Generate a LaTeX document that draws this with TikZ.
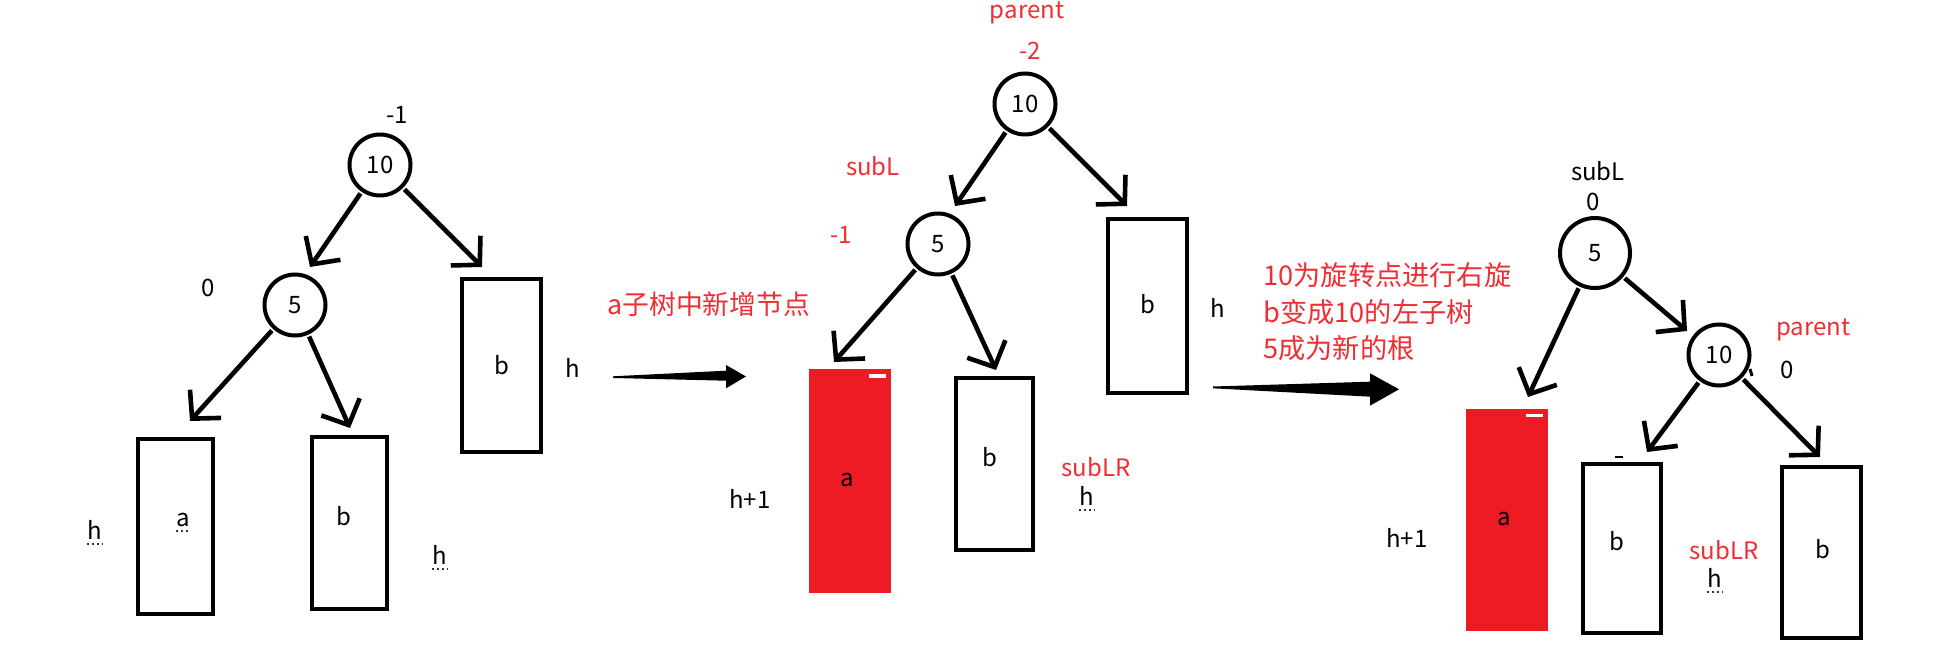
\documentclass[tikz,border=0pt]{standalone}
\usepackage{fontspec}
\setmainfont{Noto Sans CJK SC}
\usetikzlibrary{arrows.meta,fit}
\definecolor{pred}{RGB}{237,28,36}
\definecolor{tred}{RGB}{240,45,50}
\begin{document}
\begin{tikzpicture}[x=0.5pt,y=-0.5pt,
  lab/.style={font=\fontsize{12}{14}\selectfont, inner sep=0pt, text=black},
  rlab/.style={lab, text=tred},
  circ/.style={circle, draw, line width=2pt, minimum size=30.5pt, inner sep=0pt, font=\fontsize{12}{14}\selectfont},
  bigcirc/.style={circ, minimum size=35pt},
  box/.style={draw, line width=2.4pt, inner sep=0pt, outer sep=0pt},
  redbox/.style={fill=pred, inner sep=0pt, outer sep=0pt},
  whitedash/.style={fill=white, draw=none},
  arr/.style={line width=2.3pt, shorten <=1pt, -{Straight Barb[length=10pt,width=21pt]}},
  dotline/.style={line width=0.9pt, dash pattern=on 0.9pt off 1.6pt, black!80},
  bigarrow/.style={fill=black, draw=none}
]
\fill[white] (0,0) rectangle (1941,657);
\useasboundingbox (0,0) rectangle (1941,657);

% ================= Panel 1 =================
\node[circ] (L10) at (380,165) {10};
\node[circ] (L5) at (295,305) {5};
\node[box, fit={(138,439) (213,614)}] (La) {};
\node[box, fit={(312,437) (387,609)}] (Lb1) {};
\node[box, fit={(462,279) (541,452)}] (Lb2) {};
\node[lab] (La-t) at (183,520) {a};
\node[lab] (Lb1-t) at (344,516) {b};
\node[lab] (Lb2-t) at (502,365) {b};
\node[lab] (Lbf1) at (397,115) {-1};
\node[lab] (Lbf2) at (208,288) {0};
\node[lab] (Lh1) at (95,530) {h};
\node[lab] (Lh2) at (440,555) {h};
\node[lab] (Lh3) at (573,368) {h};
\draw[dotline] ([yshift=-2pt]La-t.south west) -- ([yshift=-2pt]La-t.south east);
\draw[dotline] ([yshift=-2pt]Lh1.south west) -- ([yshift=-2pt]Lh1.south east);
\draw[dotline] ([yshift=-2pt]Lh2.south west) -- ([yshift=-2pt]Lh2.south east);
\coordinate (tL5) at (310,267);
\coordinate (tLb2) at (482,267);
\coordinate (tLa) at (190,421);
\coordinate (tLb1) at (350,428);
\draw[arr] (L10) -- (tL5);
\draw[arr] (L10) -- (tLb2);
\draw[arr] (L5) -- (tLa);
\draw[arr] (L5) -- (tLb1);

% big arrow 1
\coordinate (A1t) at (746,376.5);
\fill[bigarrow] (613,376.3) -- (726,370.7) -- (726,365) -- (A1t) -- (726,388.3) -- (726,380.7) -- (613,378) -- cycle;
\node[rlab, font=\fontsize{13.4}{16}\selectfont, anchor=west] (note1) at (607,304) {a子树中新增节点};

% ================= Panel 2 =================
\node[circ] (M10) at (1025,104) {10};
\node[circ] (M5) at (938,244) {5};
\node[redbox, fit={(809,369) (891,593)}] (Ma) {};
\fill[whitedash] (869,374) rectangle (886,378);
\node[box, fit={(956,378) (1033,550)}] (Mb1) {};
\node[box, fit={(1108,219) (1187,393)}] (Mb2) {};
\node[lab] (Ma-t) at (847,480) {a};
\node[lab] (Mb1-t) at (990,457) {b};
\node[lab] (Mb2-t) at (1148,304) {b};
\node[rlab] (Mpar) at (1027,13) {parent};
\node[rlab] (Mbf1) at (1030,51) {-2};
\node[rlab] (MsubL) at (873,166) {subL};
\node[rlab] (Mbf2) at (841,235) {-1};
\node[lab] (Mh1) at (750,499) {h+1};
\node[rlab] (MsubLR) at (1096,467) {subLR};
\node[lab] (Mh2) at (1087,496) {h};
\node[lab] (Mh3) at (1218,308) {h};
\draw[dotline] ([yshift=-2pt]Mh2.south west) -- ([yshift=-2pt]Mh2.south east);
\coordinate (tM5) at (955,206);
\coordinate (tMb2) at (1127,206);
\coordinate (tMa) at (834,362);
\coordinate (tMb1) at (996,370);
\draw[arr] (M10) -- (tM5);
\draw[arr] (M10) -- (tMb2);
\draw[arr] (M5) -- (tMa);
\draw[arr] (M5) -- (tMb1);

% big arrow 2
\coordinate (A2t) at (1399,389.3);
\fill[bigarrow] (1213,386.5) -- (1370,381.7) -- (1370,373.3) -- (A2t) -- (1370,405.7) -- (1370,396.7) -- (1213,388.3) -- cycle;
\node[rlab, font=\fontsize{13.6}{18.3}\selectfont, align=left, anchor=west] (note2) at (1263,312) {10为旋转点进行右旋\\b变成10的左子树\\5成为新的根};

% ================= Panel 3 =================
\node[bigcirc] (R5) at (1595,253) {5};
\node[circ] (R10) at (1719,355) {10};
\node[redbox, fit={(1466,409) (1548,631)}] (Ra) {};
\fill[whitedash] (1526,414) rectangle (1543,417);
\node[box, fit={(1583,464) (1661,633)}] (Rb1) {};
\node[box, fit={(1782,467) (1861,638)}] (Rb2) {};
\node[lab] (Ra-t) at (1504,519) {a};
\node[lab] (Rb1-t) at (1617,541) {b};
\node[lab] (Rb2-t) at (1823,549) {b};
\node[lab] (RsubL) at (1598,171) {subL};
\node[lab] (Rbf1) at (1593,202) {0};
\node[rlab] (Rpar) at (1813,330) {parent};
\node[lab] (Rbf2) at (1787,370) {0};
\node[lab] (Rh1) at (1407,538) {h+1};
\node[rlab] (RsubLR) at (1724,550) {subLR};
\node[lab] (Rh2) at (1715,578) {h};
\draw[dotline] ([yshift=-2pt]Rh2.south west) -- ([yshift=-2pt]Rh2.south east);
\coordinate (tRa) at (1528,397);
\coordinate (tR10) at (1687,331);
\coordinate (tRb1) at (1647,452);
\coordinate (tRb2) at (1820,457);
\draw[arr] (R5) -- (tRa);
\draw[arr] (R5) -- (tR10);
\draw[arr] (R10) -- (tRb1);
\draw[arr] (R10) -- (tRb2);
% small stray marks
\draw[line width=1.2pt] (1615,457) -- (1623,457);
\draw[line width=1.5pt] (1750,369) -- (1752,376);
\end{tikzpicture}
\end{document}
